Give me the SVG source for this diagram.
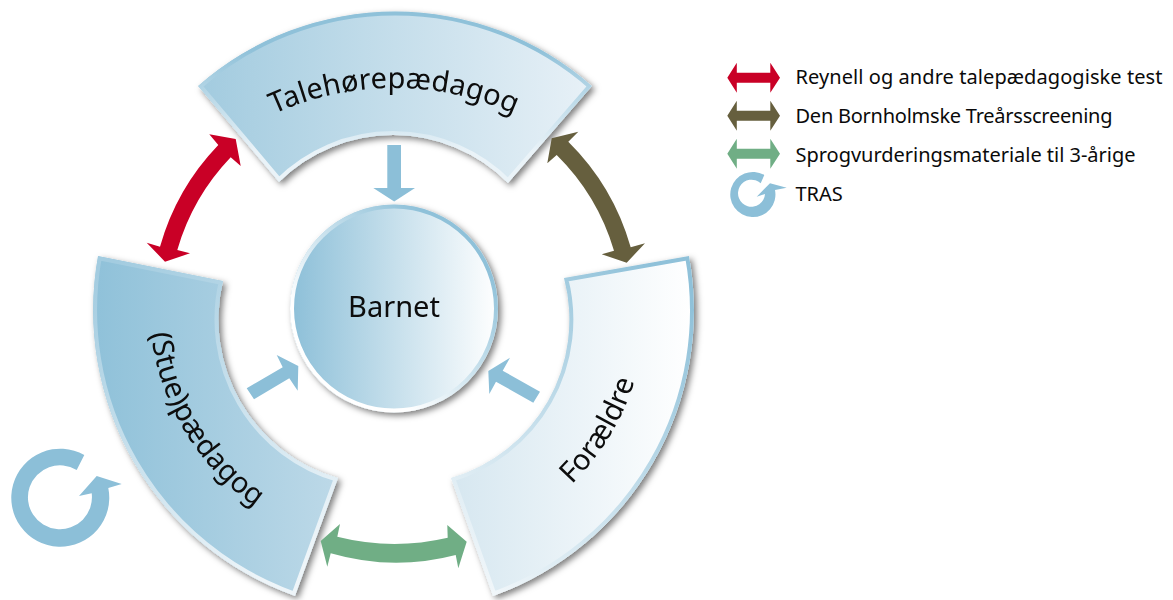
<svg xmlns="http://www.w3.org/2000/svg" width="1173" height="600" viewBox="0 0 1173 600">
<style>
text{font-family:"Noto Sans","Open Sans","DejaVu Sans",sans-serif;fill:#0a0a0a}
.lab{font-size:29px}
.leg{font-size:20px}
.sec{stroke-width:8}
.blue{fill:#8cbfd8}
.red{fill:#c90026}
.olive{fill:#665f3e}
.green{fill:#70ae85}
</style>
<defs>
<filter id="sh" x="-15%" y="-15%" width="130%" height="130%"><feDropShadow dx="3" dy="3" stdDeviation="3" flood-color="#000" flood-opacity="0.5"/></filter>
<linearGradient id="f1" gradientUnits="userSpaceOnUse" x1="198" y1="0" x2="592" y2="0"><stop offset="0" stop-color="#a2cbdf"/><stop offset="1" stop-color="#e8f1f7"/></linearGradient>
<linearGradient id="f2" gradientUnits="userSpaceOnUse" x1="93" y1="0" x2="338" y2="0"><stop offset="0" stop-color="#8fc1d9"/><stop offset="1" stop-color="#bdd9e8"/></linearGradient>
<linearGradient id="f3" gradientUnits="userSpaceOnUse" x1="451" y1="0" x2="694" y2="0"><stop offset="0" stop-color="#d6e7f0"/><stop offset="1" stop-color="#ffffff"/></linearGradient>
<linearGradient id="f4" gradientUnits="userSpaceOnUse" x1="290" y1="0" x2="498" y2="0"><stop offset="0" stop-color="#8cbfd8"/><stop offset="1" stop-color="#ffffff"/></linearGradient>
<linearGradient id="s1" gradientUnits="userSpaceOnUse" x1="394" y1="185" x2="394" y2="15"><stop offset="0.2" stop-color="#eaf3f8"/><stop offset="0.8" stop-color="#8fc1d9"/></linearGradient>
<linearGradient id="s2" gradientUnits="userSpaceOnUse" x1="300" y1="560" x2="120" y2="260"><stop offset="0" stop-color="#eef5f9"/><stop offset="1" stop-color="#a3cce0"/></linearGradient>
<linearGradient id="s3" gradientUnits="userSpaceOnUse" x1="450" y1="560" x2="690" y2="300"><stop offset="0" stop-color="#f2f7fa"/><stop offset="1" stop-color="#8fc1d9"/></linearGradient>
<linearGradient id="s4" gradientUnits="userSpaceOnUse" x1="320" y1="390" x2="470" y2="225"><stop offset="0.2" stop-color="#ffffff"/><stop offset="0.9" stop-color="#8fc1d9"/></linearGradient>
<path id="p1" d="M198,86 A298,298 0 0 1 592,86 L508,183 A162,162 0 0 0 279,182 Z"/>
<path id="p2" d="M98,256 L223,281 A165,165 0 0 0 338,478 L295,596 A303,303 0 0 1 98,256 Z"/>
<path id="p3" d="M564,278 L689,256 A303,303 0 0 1 493,596 L451,478 A165,165 0 0 0 564,278 Z"/>
<clipPath id="c1"><use href="#p1"/></clipPath>
<clipPath id="c2"><use href="#p2"/></clipPath>
<clipPath id="c3"><use href="#p3"/></clipPath>
<clipPath id="c4"><circle cx="394" cy="308.5" r="104"/></clipPath>
<path id="t1" d="M224,143 A290,290 0 0 1 564,143"/>
<path id="t2" d="M151,335 A250,250 0 0 0 254,506"/>
<path id="t3" d="M573,483 A250,250 0 0 0 634,383"/>
<path id="dbl" d="M0,0 L9.5,-15 V-5 H43 V-15 L52.7,0 L43,15 V5 H9.5 V15 Z"/>
</defs>

<g id="node-talehorepaedagog" filter="url(#sh)">
<use href="#p1" class="sec" fill="url(#f1)" stroke="url(#s1)" clip-path="url(#c1)"/>
<text class="lab"><textPath href="#t1" startOffset="50%" text-anchor="middle">Talehørepædagog</textPath></text>
</g>
<g id="node-stuepaedagog" filter="url(#sh)">
<use href="#p2" class="sec" fill="url(#f2)" stroke="url(#s2)" clip-path="url(#c2)"/>
<text class="lab"><textPath href="#t2" startOffset="50%" text-anchor="middle">(Stue)pædagog</textPath></text>
</g>
<g id="node-foraeldre" filter="url(#sh)">
<use href="#p3" class="sec" fill="url(#f3)" stroke="url(#s3)" clip-path="url(#c3)"/>
<text class="lab"><textPath href="#t3" startOffset="50%" text-anchor="middle">Forældre</textPath></text>
</g>
<g id="node-barnet" filter="url(#sh)">
<circle cx="394" cy="308.5" r="104" fill="url(#f4)" stroke="url(#s4)" stroke-width="8" clip-path="url(#c4)"/>
<text class="lab" x="394" y="317" text-anchor="middle">Barnet</text>
</g>

<g id="connectors">
<path class="red" d="M235.7,139 L209.3,134.3 L218.3,145 A241,241 0 0 0 160,246.7 L146.7,242.7 L165,261.7 L190,253.3 L177.3,250 A224,224 0 0 1 230.7,157.3 L240.7,166 Z"/>
<path class="olive" d="M551.7,138.3 L578.3,131.7 L568.3,141.7 A241,241 0 0 1 630.7,247.3 L645,243.3 L626.7,262.7 L601.7,254.3 L614,250.7 A224,224 0 0 0 556.7,155 L547.3,163.3 Z"/>
<path class="green" d="M320.7,541 L340,524 L337.3,536.7 A235,235 0 0 0 447.7,537.7 L447.3,525 L466.7,541.7 L458.3,568.3 L455.7,555 A235,235 0 0 1 330.7,553.3 L327.3,566.7 Z"/>
<path class="blue" d="M387.3,145 H401 V188 H415 L394.2,201.5 L373.3,188 H387.3 Z"/>
<path class="blue" d="M246.7,388.3 L282.7,367.3 L276.7,355 L298.3,366 L297.7,390.7 L289.3,378.3 L254,399.3 Z"/>
<path class="blue" d="M540,391.7 L502.7,370.7 L510,357.7 L488.3,371 L489.3,394 L496,381.7 L533.3,402.7 Z"/>
</g>

<g id="tras-cycle">
<path class="blue" d="M84.3,455 A49,49 0 1 0 108.3,488 L121.7,484 L96.7,476 L79,496 L91.7,493.3 A32,32 0 1 1 76.7,470 Z"/>
</g>

<g id="legend">
<use href="#dbl" class="red" x="727.3" y="77.7"/>
<use href="#dbl" class="olive" x="727.3" y="115.7"/>
<use href="#dbl" class="green" x="727.3" y="153.7"/>
<path class="blue" d="M764.3,175 A22.6,22.6 0 1 0 775,190 L786.7,187.7 L770,183.3 L756.7,196.7 L765,194 A13.5,13.5 0 1 1 760.7,183.3 Z"/>
<text class="leg" x="795.5" y="84" textLength="367">Reynell og andre talepædagogiske test</text>
<text class="leg" x="795.5" y="122.5" textLength="317">Den Bornholmske Treårsscreening</text>
<text class="leg" x="795.5" y="161.5" textLength="340">Sprogvurderingsmateriale til 3-årige</text>
<text class="leg" x="795.5" y="201">TRAS</text>
</g>
</svg>
